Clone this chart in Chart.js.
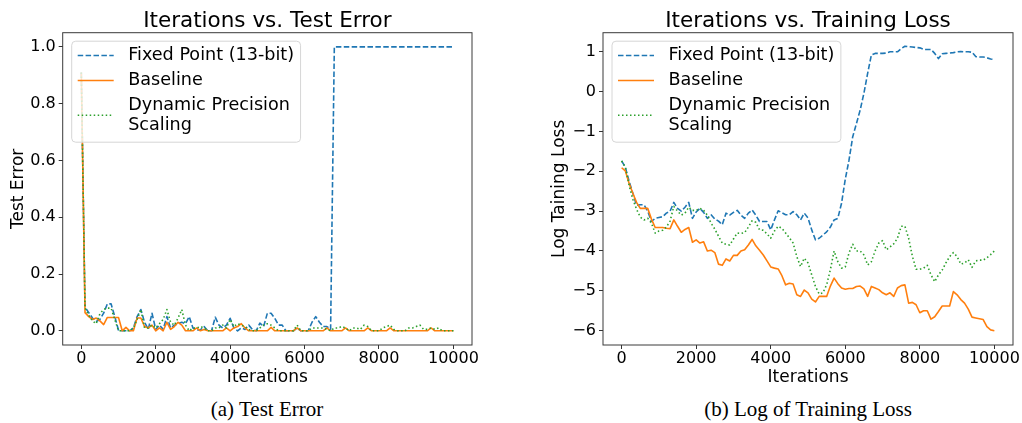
<!DOCTYPE html>
<html>
<head>
<meta charset="utf-8">
<script src="https://cdn.jsdelivr.net/npm/chart.js@4.4.1/dist/chart.umd.min.js"></script>
<style>
    html, body { margin: 0; padding: 0; background: #fff; }
    body { width: 1022px; height: 423px; position: relative; overflow: hidden; }
    .plot { position: absolute; top: 0; height: 395px; }
    #leftPlot { left: 0; width: 520px; }
    #rightPlot { left: 520px; width: 502px; }
    .caption {
        position: absolute; top: 399px; line-height: 21px;
        font-family: 'Liberation Serif', 'Times New Roman', serif; font-size: 21px;
        transform: translateX(-50%); white-space: nowrap; color: #000;
    }
</style>
</head>
<body>
<div class="plot" id="leftPlot"><canvas id="errorCanvas"></canvas></div>
<div class="plot" id="rightPlot"><canvas id="lossCanvas"></canvas></div>
<div class="caption" style="left:267px">(a) Test Error</div>
<div class="caption" style="left:808px">(b) Log of Training Loss</div>

<script>
// --- Data (one sample every 100 iterations) ---
const iterations = Array.from({ length: 101 }, (_, i) => i * 100);

const seriesLabels = ['Fixed Point (13-bit)', 'Baseline', 'Dynamic Precision\nScaling'];

const testErrFixed = [
    0.91, 0.083, 0.064, 0.045, 0.033, 0.040, 0.062, 0.095, 0.095, 0.050,
    0.002, 0.000, 0.000, 0.000, 0.010, 0.050, 0.075, 0.030, 0.005, 0.062,
    0.005, 0.020, 0.005, 0.050, 0.010, 0.020, 0.025, 0.030, 0.025, 0.050,
    0.010, 0.003, 0.003, 0.015, 0.000, 0.000, 0.048, 0.020, 0.010, 0.020,
    0.044, 0.010, 0.000, 0.010, 0.005, 0.020, 0.004, 0.000, 0.027, 0.015,
    0.062, 0.062, 0.044, 0.020, 0.020, 0.000, 0.000, 0.000, 0.010, 0.000,
    0.000, 0.000, 0.030, 0.050, 0.030, 0.015, 0.015, 0.005, 1.000, 1.000,
    1.000, 1.000, 1.000, 1.000, 1.000, 1.000, 1.000, 1.000, 1.000, 1.000,
    1.000, 1.000, 1.000, 1.000, 1.000, 1.000, 1.000, 1.000, 1.000, 1.000,
    1.000, 1.000, 1.000, 1.000, 1.000, 1.000, 1.000, 1.000, 1.000, 1.000,
    1.000
];
const testErrBaseline = [
    0.91, 0.064, 0.050, 0.040, 0.045, 0.035, 0.022, 0.047, 0.047, 0.047,
    0.047, 0.000, 0.012, 0.000, 0.000, 0.045, 0.045, 0.015, 0.010, 0.020,
    0.000, 0.010, 0.000, 0.030, 0.005, 0.015, 0.030, 0.020, 0.000, 0.000,
    0.000, 0.010, 0.000, 0.005, 0.000, 0.000, 0.000, 0.000, 0.000, 0.010,
    0.000, 0.010, 0.015, 0.025, 0.010, 0.000, 0.000, 0.000, 0.000, 0.000,
    0.000, 0.012, 0.000, 0.000, 0.000, 0.000, 0.000, 0.000, 0.010, 0.000,
    0.000, 0.000, 0.000, 0.000, 0.000, 0.000, 0.010, 0.000, 0.000, 0.000,
    0.000, 0.010, 0.000, 0.000, 0.000, 0.000, 0.000, 0.010, 0.000, 0.000,
    0.000, 0.000, 0.000, 0.010, 0.000, 0.000, 0.000, 0.000, 0.000, 0.000,
    0.000, 0.000, 0.000, 0.000, 0.010, 0.000, 0.000, 0.000, 0.000, 0.000,
    0.000
];
const testErrDynamic = [
    0.91, 0.080, 0.055, 0.035, 0.025, 0.060, 0.075, 0.080, 0.080, 0.040,
    0.000, 0.000, 0.000, 0.000, 0.010, 0.040, 0.075, 0.010, 0.010, 0.020,
    0.010, 0.025, 0.040, 0.075, 0.030, 0.020, 0.045, 0.075, 0.020, 0.000,
    0.010, 0.010, 0.015, 0.010, 0.000, 0.000, 0.010, 0.010, 0.020, 0.010,
    0.040, 0.015, 0.025, 0.020, 0.015, 0.005, 0.000, 0.000, 0.010, 0.020,
    0.025, 0.020, 0.010, 0.000, 0.000, 0.000, 0.000, 0.000, 0.020, 0.000,
    0.000, 0.000, 0.010, 0.010, 0.010, 0.010, 0.005, 0.000, 0.010, 0.010,
    0.015, 0.010, 0.000, 0.010, 0.010, 0.005, 0.020, 0.015, 0.000, 0.000,
    0.000, 0.010, 0.015, 0.020, 0.005, 0.000, 0.000, 0.000, 0.010, 0.010,
    0.015, 0.020, 0.005, 0.005, 0.010, 0.005, 0.010, 0.000, 0.000, 0.000,
    0.000
];

const lossFixed = [
    -1.74, -1.90, -2.25, -2.55, -2.85, -2.84, -2.84, -3.00, -3.26, -3.18,
    -3.16, -3.14, -3.05, -3.00, -2.78, -2.93, -3.00, -2.90, -2.78, -3.18,
    -3.02, -2.93, -3.03, -3.18, -3.09, -3.20, -3.25, -3.34, -3.05, -3.10,
    -3.03, -2.98, -3.10, -3.18, -3.05, -2.97, -3.10, -3.26, -3.26, -3.26,
    -3.47, -3.22, -2.99, -3.04, -3.09, -3.09, -3.01, -3.09, -3.22, -3.05,
    -3.17, -3.47, -3.72, -3.68, -3.60, -3.52, -3.40, -3.22, -3.18, -2.80,
    -2.20, -1.72, -1.13, -0.80, -0.46, -0.04, 0.46, 0.92, 0.96, 0.96,
    0.96, 0.97, 1.00, 1.00, 1.00, 1.08, 1.14, 1.13, 1.12, 1.11,
    1.10, 1.06, 1.06, 1.06, 0.96, 0.83, 0.95, 0.96, 0.97, 0.98,
    1.00, 1.01, 1.00, 1.00, 0.99, 0.88, 0.87, 0.87, 0.85, 0.82,
    0.81
];
const lossBaseline = [
    -1.91, -1.99, -2.30, -2.55, -2.78, -2.93, -2.93, -2.93, -3.20, -3.41,
    -3.41, -3.41, -3.43, -3.44, -3.22, -3.38, -3.53, -3.46, -3.41, -3.78,
    -3.72, -3.80, -3.77, -4.00, -3.98, -4.04, -4.33, -4.36, -4.20, -4.25,
    -4.11, -4.11, -4.00, -3.97, -3.85, -3.71, -3.87, -3.98, -4.10, -4.25,
    -4.40, -4.43, -4.45, -4.62, -4.85, -4.81, -4.83, -5.10, -5.14, -4.98,
    -5.05, -5.21, -5.28, -5.14, -5.14, -5.14, -4.88, -4.68, -4.82, -4.93,
    -4.96, -4.94, -4.94, -4.89, -4.88, -4.95, -5.14, -4.89, -4.93, -4.97,
    -5.05, -5.10, -5.05, -5.14, -4.93, -4.87, -4.85, -5.31, -5.29, -5.35,
    -5.55, -5.50, -5.50, -5.71, -5.65, -5.52, -5.38, -5.38, -5.38, -5.02,
    -5.10, -5.22, -5.31, -5.46, -5.66, -5.68, -5.70, -5.72, -5.90, -5.98,
    -6.00
];
const lossDynamic = [
    -1.74, -1.90, -2.35, -2.70, -2.95, -3.15, -3.22, -3.18, -3.30, -3.55,
    -3.50, -3.48, -3.40, -3.25, -2.88, -3.00, -3.10, -3.05, -2.90, -2.98,
    -2.98, -2.93, -2.98, -3.10, -3.30, -3.45, -3.63, -3.80, -3.83, -3.85,
    -3.70, -3.55, -3.56, -3.54, -3.40, -3.24, -3.28, -3.47, -3.48, -3.57,
    -3.68, -3.50, -3.38, -3.43, -3.55, -3.67, -3.80, -4.14, -4.39, -4.18,
    -4.30, -4.60, -4.89, -5.08, -5.05, -4.85, -4.47, -4.00, -4.27, -4.43,
    -4.40, -4.05, -3.83, -4.00, -4.00, -4.10, -4.35, -4.27, -4.00, -3.80,
    -3.74, -3.97, -3.90, -3.82, -3.68, -3.38, -3.38, -3.68, -4.13, -4.46,
    -4.46, -4.43, -4.36, -4.60, -4.77, -4.60, -4.48, -4.30, -4.14, -4.04,
    -4.14, -4.33, -4.30, -4.22, -4.41, -4.25, -4.23, -4.23, -4.17, -4.09,
    -4.00
];

const xTicks = [0, 2000, 4000, 6000, 8000, 10000];
const errTicks = [0.0, 0.2, 0.4, 0.6, 0.8, 1.0];
const lossTicks = [-6, -5, -4, -3, -2, -1, 0, 1];

// --- Styling ---
const FONT = "'DejaVu Sans', sans-serif";
const seriesStyles = [
    { color: '#1f77b4', dash: [5.5, 2.4] },
    { color: '#ff7f0e', dash: [] },
    { color: '#2ca02c', dash: [1.5, 2.5] }
];

/**
 * Draws the matplotlib-like frame, axes title and in-axes legend.
 */
const mplFrame = {
    id: 'mplFrame',
    afterDraw(chart, args, opts) {
        const { ctx, chartArea: a } = chart;
        ctx.save();

        // spines
        ctx.strokeStyle = '#3a3a3a';
        ctx.lineWidth = 1;
        ctx.setLineDash([]);
        ctx.strokeRect(a.left, a.top, a.right - a.left, a.bottom - a.top);

        // title
        ctx.fillStyle = '#000';
        ctx.font = `21.5px ${FONT}`;
        ctx.textAlign = 'center';
        ctx.textBaseline = 'alphabetic';
        ctx.fillText(opts.title, (a.left + a.right) / 2, a.top - 5.5);

        // legend
        ctx.font = `17.6px ${FONT}`;
        const sets = chart.data.datasets;
        const lines = sets.map(d => d.label.split('\n'));
        const rowH = 19.5, gap = 5.5, topPad = 4.5, botPad = 7.5;
        const maxW = Math.max(...lines.flat().map(t => ctx.measureText(t).width));
        const bx = a.left + 9, by = a.top + 8.5;
        const bw = 56 + maxW + 7;
        let bh = topPad + botPad + gap * (lines.length - 1);
        lines.forEach(l => { bh += l.length * rowH; });

        ctx.beginPath();
        if (ctx.roundRect) ctx.roundRect(bx, by, bw, bh, 4);
        else ctx.rect(bx, by, bw, bh);
        ctx.fillStyle = 'rgba(255,255,255,0.8)';
        ctx.fill();
        ctx.strokeStyle = '#d6d6d6';
        ctx.stroke();

        let y = by + topPad;
        sets.forEach((d, i) => {
            const h = lines[i].length * rowH;
            const mid = y + h / 2;
            ctx.beginPath();
            ctx.strokeStyle = d.borderColor;
            ctx.lineWidth = 1.5;
            ctx.setLineDash(d.borderDash || []);
            ctx.moveTo(bx + 6, mid);
            ctx.lineTo(bx + 42, mid);
            ctx.stroke();
            ctx.setLineDash([]);
            ctx.fillStyle = '#000';
            ctx.textAlign = 'left';
            ctx.textBaseline = 'middle';
            lines[i].forEach((t, k) => ctx.fillText(t, bx + 56.5, y + rowH * k + rowH / 2));
            y += h + gap;
        });
        ctx.restore();
    }
};

function makeDatasets(valueArrays) {
    return valueArrays.map((vals, i) => ({
        label: seriesLabels[i],
        data: iterations.map((it, k) => ({ x: it, y: vals[k] })),
        borderColor: seriesStyles[i].color,
        borderDash: seriesStyles[i].dash,
        borderWidth: 1.6,
        borderCapStyle: 'butt',
        borderJoinStyle: 'round',
        pointRadius: 0,
        fill: false,
        tension: 0,
        order: 3 - i
    }));
}

function fixedTicks(values) {
    return scale => { scale.ticks = values.map(v => ({ value: v })); };
}

/**
 * Builds one matplotlib-styled subplot.
 */
function createPlot(canvasId, cfg) {
    const ctx = document.getElementById(canvasId).getContext('2d');
    const tickFont = { family: FONT, size: 16 };
    const titleFont = { family: FONT, size: 17 };
    return new Chart(ctx, {
        type: 'line',
        data: { datasets: makeDatasets(cfg.series) },
        options: {
            responsive: true,
            maintainAspectRatio: false,
            animation: false,
            layout: { padding: { top: 32.7, left: 0, right: cfg.padRight, bottom: 0 } },
            scales: {
                x: {
                    type: 'linear',
                    min: -500, max: 10500,
                    afterBuildTicks: fixedTicks(xTicks),
                    afterFit: s => { s.height = 50; },
                    grid: { drawOnChartArea: false, drawTicks: true, tickLength: 4, tickColor: '#333' },
                    border: { display: false },
                    ticks: { font: tickFont, color: '#000', padding: 0, maxRotation: 0, autoSkip: false,
                             callback: v => String(v) },
                    title: { display: true, text: 'Iterations', font: titleFont, color: '#000',
                             padding: { top: 0, bottom: 7.5 } }
                },
                y: {
                    type: 'linear',
                    min: cfg.yMin, max: cfg.yMax,
                    afterBuildTicks: fixedTicks(cfg.yTicks),
                    afterFit: s => { s.width = cfg.yWidth; },
                    grid: { drawOnChartArea: false, drawTicks: true, tickLength: 4, tickColor: '#333' },
                    border: { display: false },
                    ticks: { font: tickFont, color: '#000', padding: 3, autoSkip: false, callback: cfg.yFormat },
                    title: { display: true, text: cfg.yTitle, font: titleFont, color: '#000',
                             padding: { top: cfg.yTitlePad, bottom: 0 } }
                }
            },
            plugins: {
                legend: { display: false },
                tooltip: { enabled: false },
                mplFrame: { title: cfg.title }
            }
        },
        plugins: [mplFrame]
    });
}

createPlot('errorCanvas', {
    series: [testErrFixed, testErrBaseline, testErrDynamic],
    title: 'Iterations vs. Test Error',
    yTitle: 'Test Error',
    yMin: -0.05, yMax: 1.05,
    yTicks: errTicks,
    yFormat: v => v.toFixed(1),
    yWidth: 62.7,
    yTitlePad: 8,
    padRight: 48
});

createPlot('lossCanvas', {
    series: [lossFixed, lossBaseline, lossDynamic],
    title: 'Iterations vs. Training Loss',
    yTitle: 'Log Taining Loss',
    yMin: -6.36, yMax: 1.48,
    yTicks: lossTicks,
    yFormat: v => (v < 0 ? '\u2212' + Math.abs(v) : String(v)),
    yWidth: 83,
    yTitlePad: 29.8,
    padRight: 9
});
</script>
</body>
</html>
